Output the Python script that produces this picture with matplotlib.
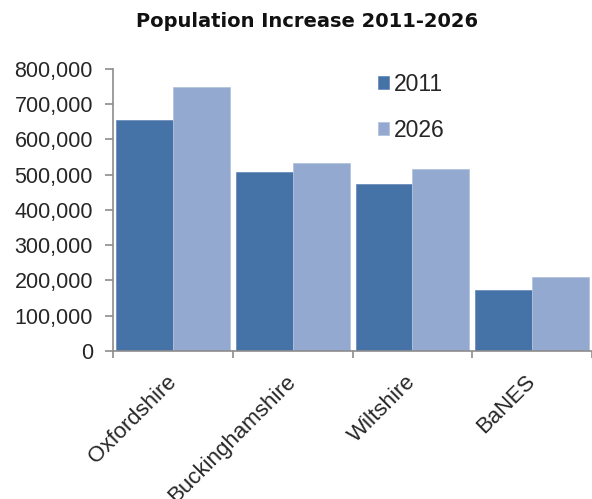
import numpy as np
import matplotlib.pyplot as plt
from matplotlib.ticker import FuncFormatter

counties = ["Oxfordshire", "Buckinghamshire", "Wiltshire", "BaNES"]
pop_2011 = [655000, 507000, 475000, 174000]
pop_2026 = [748000, 532000, 517000, 209000]
years = ["2011", "2026"]

C_2011 = "#4572A7"
C_2026 = "#94A9CF"
AXIS_GREY = "#8C8C8C"
TEXT_GREY = "#262626"

plt.rcParams["font.family"] = ["Liberation Sans", "DejaVu Sans"]

fig = plt.figure(figsize=(5.92, 4.99), dpi=100)
ax = fig.add_axes([0.191, 0.2966, 0.809, 0.5652])

x = np.arange(len(counties))
w = 0.475
ax.bar(x - w / 2, pop_2011, width=w, color=C_2011, edgecolor="#6E8EBB",
       linewidth=0.6, label=years[0])
ax.bar(x + w / 2, pop_2026, width=w, color=C_2026, edgecolor="#B4C4DE",
       linewidth=0.6, label=years[1])

ax.set_xlim(-0.5, len(counties) - 0.5)
ax.set_ylim(0, 800000)
ax.set_yticks(np.arange(0, 800001, 100000))
ax.yaxis.set_major_formatter(FuncFormatter(lambda v, _: f"{int(v):,}"))

# category labels sit at the centres, tick marks at the boundaries
ax.set_xticks(x)
ax.set_xticklabels(counties, rotation=45, ha="right", va="center",
                   rotation_mode="anchor", fontsize=16)
ax.set_xticks(np.arange(-0.5, len(counties)), minor=True)
ax.tick_params(axis="x", which="major", length=0, pad=20)
ax.tick_params(axis="x", which="minor", length=5, width=1.2, color=AXIS_GREY)
ax.tick_params(axis="y", length=5.5, width=1.2, color=AXIS_GREY, pad=9,
               labelsize=15.5)
ax.tick_params(labelcolor=TEXT_GREY)

for side in ("top", "right"):
    ax.spines[side].set_visible(False)
for side in ("left", "bottom"):
    ax.spines[side].set_color(AXIS_GREY)
    ax.spines[side].set_linewidth(1.2)

ax.legend(loc="upper left", bbox_to_anchor=(0.51, 1.06), frameon=False,
          fontsize=16.5, handlelength=0.5, handleheight=0.5, handletextpad=0.2,
          labelspacing=1.0, labelcolor=TEXT_GREY)

fig.text(0.519, 0.956, "Population Increase 2011-2026", ha="center", va="center",
         fontsize=14, fontweight="bold", family=["DejaVu Sans"], color="#111111")

fig.savefig("out.png", dpi=100)
